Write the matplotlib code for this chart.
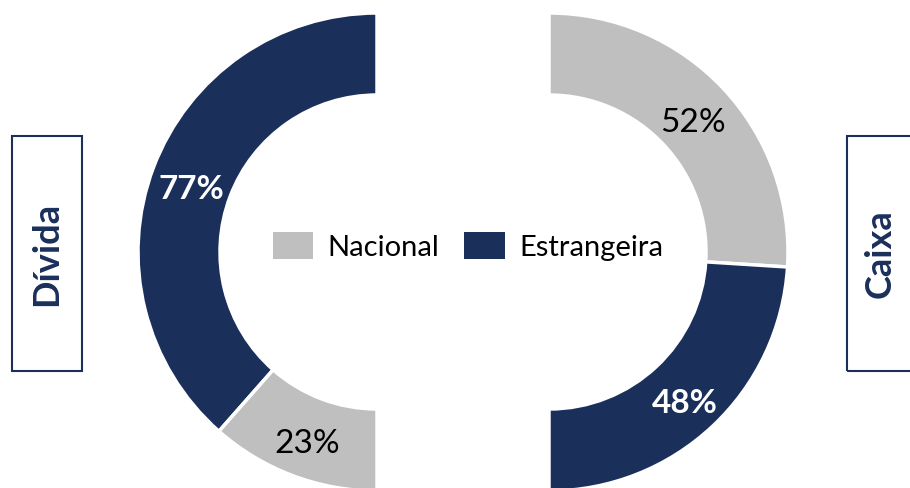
import matplotlib
matplotlib.use("Agg")
import matplotlib.pyplot as plt
from matplotlib.patches import Rectangle, Patch
import numpy as np

# Composition of debt (Dívida) and cash (Caixa) by currency
categories = ["Nacional", "Estrangeira"]
divida = [23, 77]   # Nacional, Estrangeira
caixa = [52, 48]    # Nacional, Estrangeira

NAVY = "#1A2F5A"
GRAY = "#BFBFBF"
plt.rcParams["font.family"] = ["Lato", "DejaVu Sans"]

W, H = 910, 489
fig = plt.figure(figsize=(W / 100, H / 100), dpi=100)
ax = fig.add_axes([0, 0, 1, 1])

R_OUT, R_IN = 239, 157
ring = R_OUT - R_IN
r_label = (R_OUT + R_IN) / 2
label_dy = -6  # nudge the percentage text slightly downward
cy = H - 253
centers = {"left": (377, cy), "right": (549, cy)}


def half_donut(values, colors, center, counterclock, label_styles):
    # values fill a half circle; a hidden wedge of equal total fills the rest
    total = sum(values)
    wedges, _ = ax.pie(values + [total], colors=colors + ["white"],
                       startangle=90, counterclock=counterclock,
                       center=center, radius=R_OUT, frame=True,
                       wedgeprops=dict(width=ring, edgecolor="white", linewidth=2.5))
    wedges[-1].set_visible(False)
    ang = 90.0
    sign = 1 if counterclock else -1
    for v, style in zip(values, label_styles):
        span = 180.0 * v / total
        mid = np.deg2rad(ang + sign * span / 2)
        ang += sign * span
        ax.text(center[0] + r_label * np.cos(mid),
                center[1] + r_label * np.sin(mid) + label_dy,
                f"{v}%", ha="center", va="center", fontsize=24, **style)


white_bold = dict(color="white", fontweight="bold")
black = dict(color="black")

# left: Estrangeira from the top going counter-clockwise, then Nacional
half_donut([divida[1], divida[0]], [NAVY, GRAY], centers["left"], True,
           [white_bold, black])
# right: Nacional from the top going clockwise, then Estrangeira
half_donut([caixa[0], caixa[1]], [GRAY, NAVY], centers["right"], False,
           [black, white_bold])

# side title boxes
for (x0, x1), title, tx in [((12, 82), "Dívida", 47), ((847, 917), "Caixa", 880)]:
    ax.add_patch(Rectangle((x0, H - 372), x1 - x0, 235, fill=False,
                           edgecolor=NAVY, linewidth=1.5))
    ax.text(tx, H - 254, title, rotation=90, ha="center", va="center",
            fontsize=26, fontweight="bold", color=NAVY)

handles = [Patch(facecolor=GRAY, edgecolor="none"), Patch(facecolor=NAVY, edgecolor="none")]
fig.legend(handles, categories, loc="center", bbox_to_anchor=(468 / W, 1 - 247 / H),
           ncol=2, frameon=False, fontsize=21, handlelength=1.38, handleheight=1.03,
           handletextpad=0.5, columnspacing=0.85)

ax.set_xlim(0, W)
ax.set_ylim(0, H)
ax.set_aspect("equal")
ax.set_axis_off()

fig.savefig("out.png", dpi=100)
